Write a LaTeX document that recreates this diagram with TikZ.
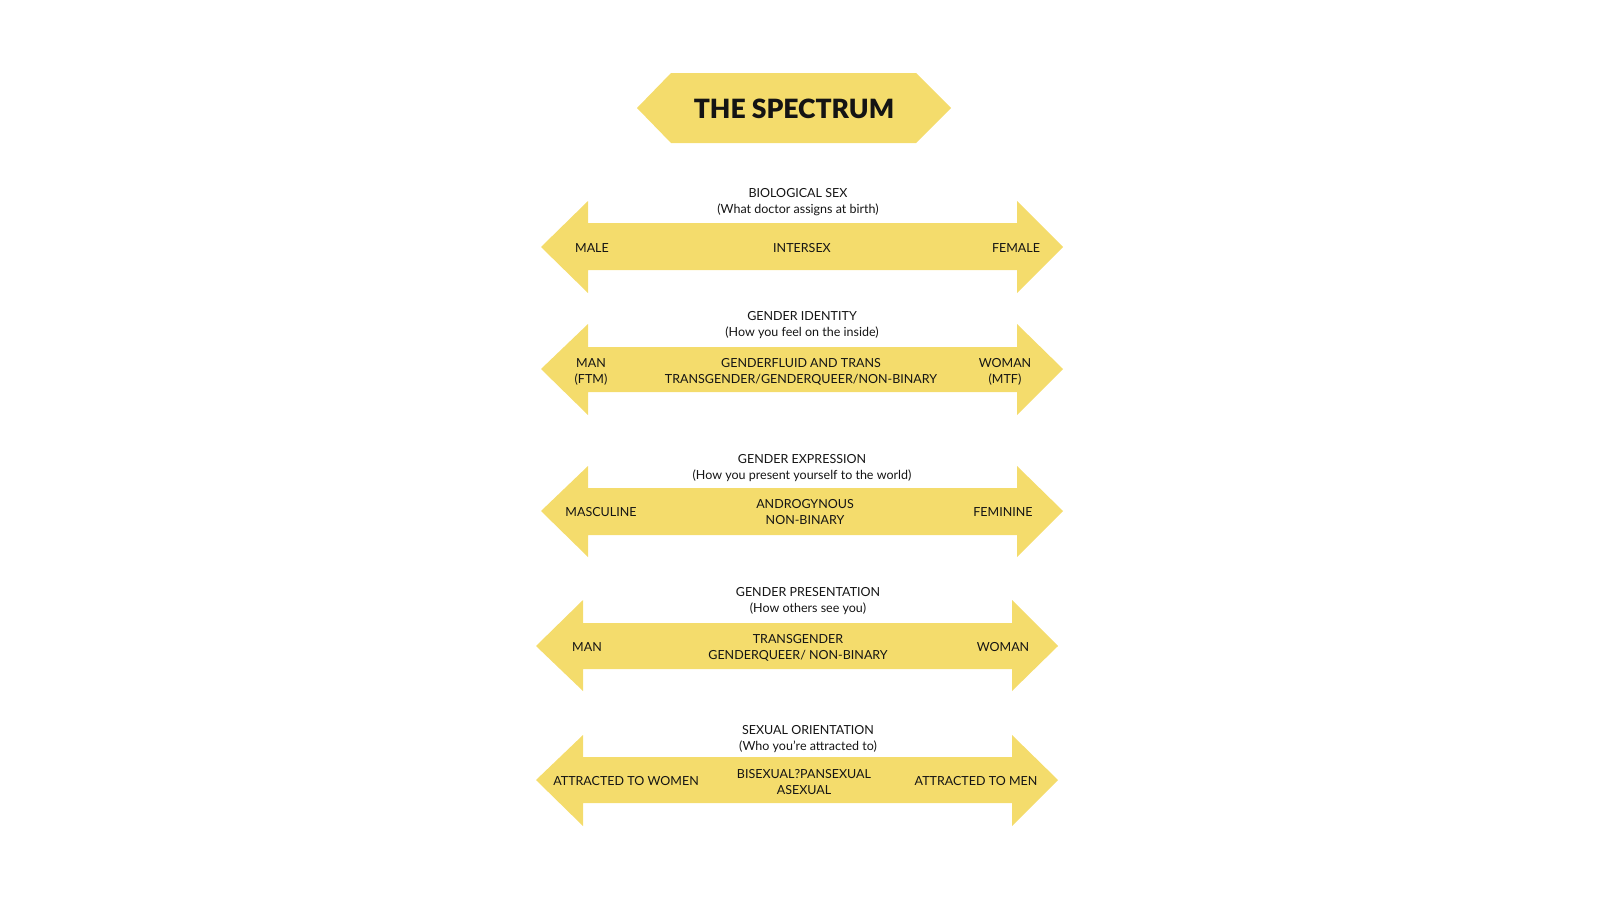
\documentclass[tikz,border=0pt]{standalone}
\usepackage{fontspec}
\setmainfont{Lato}
\newfontfamily\titlefont{Lato Black}
\usetikzlibrary{positioning}
\definecolor{bandyellow}{HTML}{F4DC6C}
\definecolor{inktext}{HTML}{141414}

\begin{document}
\begin{tikzpicture}[
  x=1pt, y=-1pt,
  every node/.style = {text=inktext, inner sep=0pt},
  band/.style = {fill=bandyellow, draw=none},
  heading/.style = {font=\fontsize{12.5}{16}\selectfont, align=center},
  tag/.style = {font=\fontsize{12.5}{16}\selectfont, align=center},
]
\useasboundingbox (0,0) rectangle (1600,900);

%% ── Title plate ──────────────────────────────────────────────────────────────
\fill[band] (637,108) -- (671,73) -- (916,73) -- (951,108) -- (916,143) -- (671,143) -- cycle;
\node[font=\fontsize{26.5}{30}\selectfont\titlefont] (title) at (794,109) {THE SPECTRUM};

%% ── Biological sex ───────────────────────────────────────────────────────────
\fill[band] (541,247) -- (588,201) -- (588,223) -- (1017,223) -- (1017,201) -- (1063,247)
  -- (1017,293) -- (1017,270) -- (588,270) -- (588,293) -- cycle;
\node[heading] (sexHead) at (798,202) {BIOLOGICAL SEX\\(What doctor assigns at birth)};
\node[tag] (sexL) at (592,248) {MALE};
\node[tag] (sexM) at (802,248) {INTERSEX};
\node[tag] (sexR) at (1016,248) {FEMALE};

%% ── Gender identity ──────────────────────────────────────────────────────────
\fill[band] (541,369) -- (588,324) -- (588,347) -- (1017,347) -- (1017,324) -- (1063,369)
  -- (1017,415) -- (1017,392) -- (588,392) -- (588,415) -- cycle;
\node[heading] (idHead) at (802,325) {GENDER IDENTITY\\(How you feel on the inside)};
\node[tag] (idL) at (591,371.5) {MAN\\(FTM)};
\node[tag] (idM) at (801,371.5) {GENDERFLUID AND TRANS\\TRANSGENDER/GENDERQUEER/NON-BINARY};
\node[tag] (idR) at (1005,371.5) {WOMAN\\(MTF)};

%% ── Gender expression ────────────────────────────────────────────────────────
\fill[band] (541,511) -- (588,466) -- (588,488) -- (1017,488) -- (1017,466) -- (1063,511)
  -- (1017,557) -- (1017,535) -- (588,535) -- (588,557) -- cycle;
\node[heading] (exHead) at (802,468) {GENDER EXPRESSION\\(How you present yourself to the world)};
\node[tag] (exL) at (601,512) {MASCULINE};
\node[tag] (exM) at (805,512) {ANDROGYNOUS\\NON-BINARY};
\node[tag] (exR) at (1003,512) {FEMININE};

%% ── Gender presentation ──────────────────────────────────────────────────────
\fill[band] (536,646) -- (583,600) -- (583,623) -- (1012,623) -- (1012,600) -- (1058,646)
  -- (1012,691) -- (1012,669) -- (583,669) -- (583,691) -- cycle;
\node[heading] (prHead) at (808,601) {GENDER PRESENTATION\\(How others see you)};
\node[tag] (prL) at (587,647) {MAN};
\node[tag] (prM) at (798,648) {TRANSGENDER\\GENDERQUEER/ NON-BINARY};
\node[tag] (prR) at (1003,647) {WOMAN};

%% ── Sexual orientation ───────────────────────────────────────────────────────
\fill[band] (536,780) -- (583,735) -- (583,757) -- (1012,757) -- (1012,735) -- (1058,780)
  -- (1012,826) -- (1012,803) -- (583,803) -- (583,826) -- cycle;
\node[heading] (orHead) at (808,739) {SEXUAL ORIENTATION\\(Who you’re attracted to)};
\node[tag] (orL) at (626,781) {ATTRACTED TO WOMEN};
\node[tag] (orM) at (804,782) {BISEXUAL?PANSEXUAL\\ASEXUAL};
\node[tag] (orR) at (976,781) {ATTRACTED TO MEN};

\end{tikzpicture}
\end{document}
